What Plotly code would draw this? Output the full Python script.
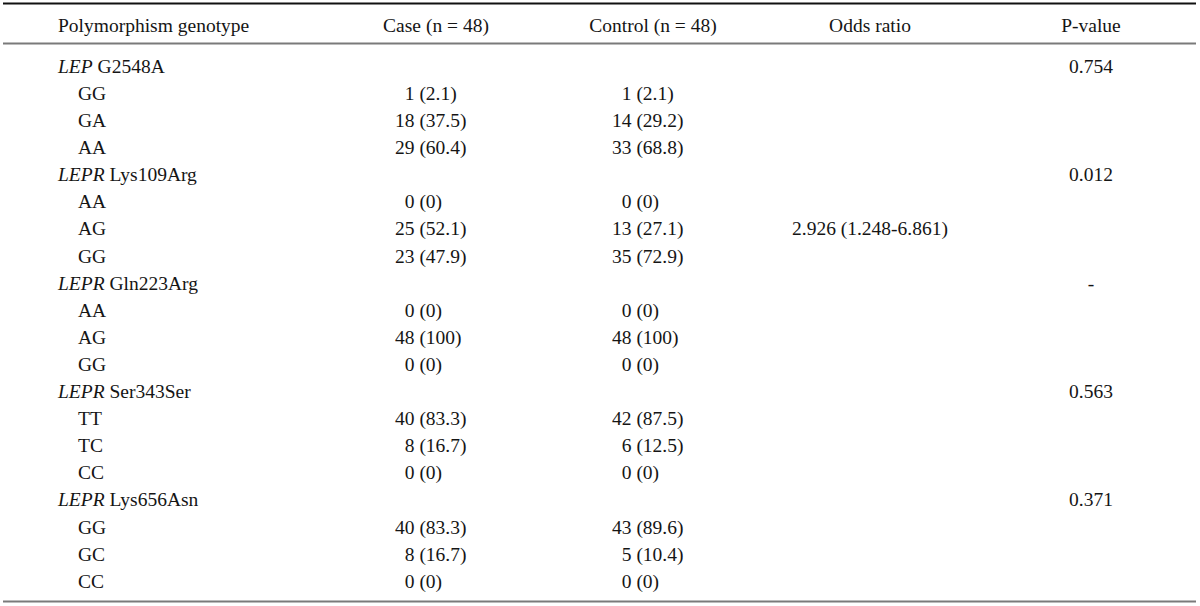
import plotly.graph_objects as go

# ---------------- data ----------------
headers = ["Polymorphism genotype", "Case (n = 48)", "Control (n = 48)", "Odds ratio", "P-value"]
genes = ["LEP", "LEPR", "LEPR", "LEPR", "LEPR"]
variants = ["G2548A", "Lys109Arg", "Gln223Arg", "Ser343Ser", "Lys656Asn"]
genotypes = [["GG", "GA", "AA"], ["AA", "AG", "GG"], ["AA", "AG", "GG"],
             ["TT", "TC", "CC"], ["GG", "GC", "CC"]]
case_n = [[1, 18, 29], [0, 25, 23], [0, 48, 0], [40, 8, 0], [40, 8, 0]]
case_pct = [["2.1", "37.5", "60.4"], ["0", "52.1", "47.9"], ["0", "100", "0"],
            ["83.3", "16.7", "0"], ["83.3", "16.7", "0"]]
ctrl_n = [[1, 14, 33], [0, 13, 35], [0, 48, 0], [42, 6, 0], [43, 5, 0]]
ctrl_pct = [["2.1", "29.2", "68.8"], ["0", "27.1", "72.9"], ["0", "100", "0"],
            ["87.5", "12.5", "0"], ["89.6", "10.4", "0"]]
odds_ratio = [["", "", ""], ["", "2.926 (1.248-6.861)", ""], ["", "", ""],
              ["", "", ""], ["", "", ""]]
p_values = ["0.754", "0.012", "-", "0.563", "0.371"]

# ---------------- layout constants ----------------
FONT_SIZE = 19.5
FONT = dict(family="Liberation Serif, Times New Roman, serif", size=FONT_SIZE, color="#151515")
ROW0_PX, ROW_STEP = 68.0, 27.1


def px_to_row(py):
    return (py - ROW0_PX) / ROW_STEP


COL_HEAD_X = 58
COL_GENE_X = 58
COL_GT_X = 78
COL_CASE_X = 395      # left edge of two-digit counts
COL_CTRL_X = 612
COL_OR_X = 870
COL_P_X = 1091
COL_HDR_CENTERS = [436, 653, 870, 1091]
DIGIT_W = FONT_SIZE * 0.5
HEADER_ROW = px_to_row(27)

# build rows
gene_rows, gene_txt, p_txt = [], [], []
gt_rows, gt_txt = [], []
case_txt, case_x, ctrl_txt, ctrl_x, or_txt, or_rows = [], [], [], [], [], []
r = 0
for g in range(len(genes)):
    gene_rows.append(r)
    gene_txt.append(f"<i>{genes[g]}</i> {variants[g]}")
    p_txt.append(p_values[g])
    r += 1
    for k in range(3):
        gt_rows.append(r)
        gt_txt.append(genotypes[g][k])
        case_txt.append(f"{case_n[g][k]} ({case_pct[g][k]})")
        ctrl_txt.append(f"{ctrl_n[g][k]} ({ctrl_pct[g][k]})")
        case_x.append(COL_CASE_X + (2 - len(str(case_n[g][k]))) * DIGIT_W)
        ctrl_x.append(COL_CTRL_X + (2 - len(str(ctrl_n[g][k]))) * DIGIT_W)
        or_txt.append(odds_ratio[g][k])
        or_rows.append(r)
        r += 1

fig = go.Figure()


def txt(x, y, t, pos):
    fig.add_trace(go.Scatter(x=x, y=y, text=t, mode="text", textposition=pos,
                             textfont=FONT, hoverinfo="skip", showlegend=False,
                             cliponaxis=False))


txt([COL_HEAD_X], [HEADER_ROW], [headers[0]], "middle right")
txt(COL_HDR_CENTERS, [HEADER_ROW] * 4, headers[1:], "middle center")
txt([COL_GENE_X] * len(gene_rows), gene_rows, gene_txt, "middle right")
txt([COL_P_X] * len(gene_rows), gene_rows, p_txt, "middle center")
txt([COL_GT_X] * len(gt_rows), gt_rows, gt_txt, "middle right")
txt(case_x, gt_rows, case_txt, "middle right")
txt(ctrl_x, gt_rows, ctrl_txt, "middle right")
txt([COL_OR_X] * len(or_rows), or_rows, or_txt, "middle center")

shapes = [
    dict(type="line", xref="x", yref="y", x0=3, x1=1196, y0=px_to_row(3.5), y1=px_to_row(3.5),
         line=dict(color="#111111", width=2)),
    dict(type="line", xref="x", yref="y", x0=3, x1=1196, y0=px_to_row(43.5), y1=px_to_row(43.5),
         line=dict(color="#7a7a7a", width=2)),
    dict(type="line", xref="x", yref="y", x0=3, x1=1196, y0=px_to_row(601.5), y1=px_to_row(601.5),
         line=dict(color="#7a7a7a", width=2)),
]

fig.update_layout(
    width=1200, height=606,
    margin=dict(l=0, r=0, t=0, b=0),
    paper_bgcolor="white", plot_bgcolor="white",
    xaxis=dict(range=[0, 1200], visible=False, fixedrange=True),
    yaxis=dict(range=[px_to_row(606), px_to_row(0)], visible=False, fixedrange=True),
    shapes=shapes,
)

fig.write_html("out.html", config={"displayModeBar": False},
               post_script="document.body.style.margin='0';document.body.style.overflow='hidden';")
